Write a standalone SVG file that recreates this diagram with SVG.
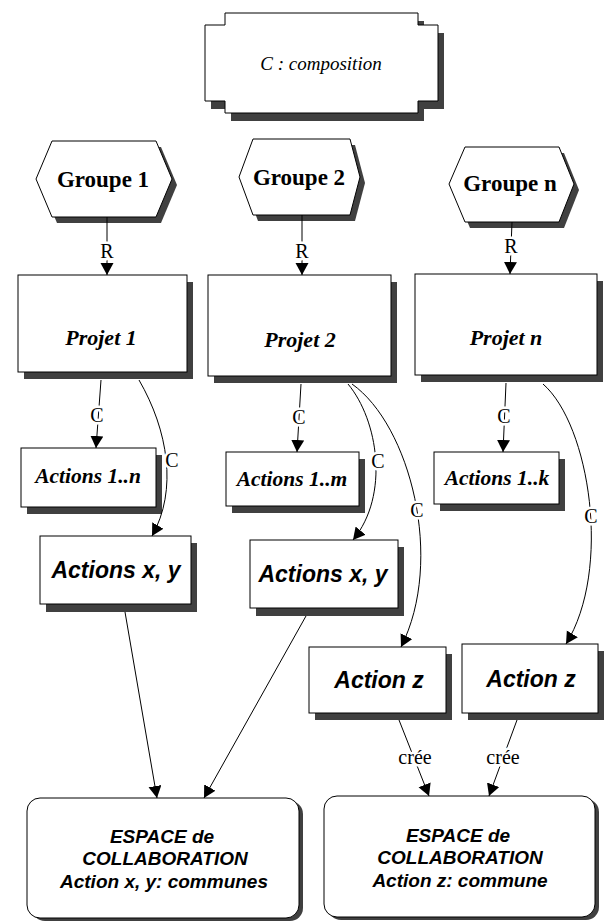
<svg xmlns="http://www.w3.org/2000/svg" width="604" height="921" viewBox="0 0 604 921">
<defs>
<style>
.bx{fill:#fff;stroke:#000;stroke-width:1}
.sh{fill:#404040;stroke:none}
.ln{fill:none;stroke:#000;stroke-width:1}
.lbl{font-family:"Liberation Serif","Times New Roman",serif;font-size:20px;text-anchor:middle;fill:#000;stroke:#fff;stroke-width:5px;paint-order:stroke;stroke-linejoin:round}
.grp{font-family:"Liberation Serif","Times New Roman",serif;font-size:23px;font-weight:bold;text-anchor:middle}
.prj{font-family:"Liberation Serif","Times New Roman",serif;font-size:22px;font-weight:bold;font-style:italic;text-anchor:middle}
.act{font-family:"Liberation Serif","Times New Roman",serif;font-size:21.5px;font-weight:bold;font-style:italic;text-anchor:middle}
.sans{font-family:"Liberation Sans",Arial,sans-serif;font-size:23px;font-weight:bold;font-style:italic;text-anchor:middle}
.esp{font-family:"Liberation Sans",Arial,sans-serif;font-size:19px;font-weight:bold;font-style:italic;text-anchor:middle}
.cmp{font-family:"Liberation Serif","Times New Roman",serif;font-size:19px;font-style:italic;text-anchor:middle}
</style>
<marker id="ah" markerUnits="userSpaceOnUse" markerWidth="14" markerHeight="14" refX="12" refY="6.5" orient="auto">
<path d="M0,0 L12,6.5 L0,13 Z" fill="#000"/>
</marker>
<path id="compo" d="M225,13 H418 V25 H438 V101 H418 V113 H225 V101 H205 V25 H225 Z"/>
</defs>

<g id="composition">
<use href="#compo" class="sh" transform="translate(6,8)"/>
<use href="#compo" class="bx"/>
<text class="cmp" x="321" y="70">C : composition</text>
</g>

<g id="groupe1">
<polygon class="sh" points="41,185 57,147 161,147 177,185 161,223 57,223"/>
<polygon class="bx" points="36,179 52,141 156,141 172,179 156,217 52,217"/>
<text class="grp" x="103" y="187">Groupe 1</text>
</g>
<g id="groupe2">
<polygon class="sh" points="244,183 258,145 355,145 365,183 355,221 258,221"/>
<polygon class="bx" points="239,177 253,139 350,139 360,177 350,215 253,215"/>
<text class="grp" x="299" y="185">Groupe 2</text>
</g>
<g id="groupen">
<polygon class="sh" points="454,190 470,153 564,153 579,190 564,228 470,228"/>
<polygon class="bx" points="449,184 465,147 559,147 574,184 559,222 465,222"/>
<text class="grp" x="510" y="191">Groupe n</text>
</g>

<g id="projet1">
<rect class="sh" x="24" y="282" width="169" height="97"/>
<rect class="bx" x="18" y="275" width="169" height="97"/>
<text class="prj" x="101" y="345">Projet 1</text>
</g>
<g id="projet2">
<rect class="sh" x="214" y="282" width="183" height="101"/>
<rect class="bx" x="208" y="275" width="183" height="101"/>
<text class="prj" x="300" y="347">Projet 2</text>
</g>
<g id="projetn">
<rect class="sh" x="421" y="281" width="182" height="101"/>
<rect class="bx" x="415" y="274" width="182" height="101"/>
<text class="prj" x="506" y="345">Projet n</text>
</g>

<g id="actions1n">
<rect class="sh" x="27" y="455" width="135" height="59"/>
<rect class="bx" x="21" y="448" width="135" height="59"/>
<text class="act" x="88" y="483">Actions 1..n</text>
</g>
<g id="actions1m">
<rect class="sh" x="232" y="459" width="133" height="54"/>
<rect class="bx" x="226" y="452" width="133" height="54"/>
<text class="act" x="292" y="486">Actions 1..m</text>
</g>
<g id="actions1k">
<rect class="sh" x="440" y="459" width="125" height="52"/>
<rect class="bx" x="434" y="452" width="125" height="52"/>
<text class="act" x="497" y="485">Actions 1..k</text>
</g>

<g id="actionsxy1">
<rect class="sh" x="46" y="543" width="151" height="69"/>
<rect class="bx" x="40" y="536" width="151" height="68"/>
<text class="sans" x="116" y="578">Actions x, y</text>
</g>
<g id="actionsxy2">
<rect class="sh" x="256" y="547" width="148" height="69"/>
<rect class="bx" x="250" y="540" width="148" height="68"/>
<text class="sans" x="323" y="582">Actions x, y</text>
</g>
<g id="actionz1">
<rect class="sh" x="315" y="654" width="137" height="66"/>
<rect class="bx" x="309" y="647" width="137" height="66"/>
<text class="sans" x="379" y="688">Action z</text>
</g>
<g id="actionz2">
<rect class="sh" x="468" y="651" width="136" height="69"/>
<rect class="bx" x="462" y="644" width="136" height="69"/>
<text class="sans" x="531" y="687">Action z</text>
</g>

<g id="espace1">
<rect class="sh" x="32" y="801" width="271" height="120" rx="13"/>
<rect class="bx" x="27" y="798" width="272" height="120" rx="13"/>
<text class="esp" x="162" y="843">ESPACE de</text>
<text class="esp" x="165" y="865">COLLABORATION</text>
<text class="esp" x="164" y="888">Action x, y: communes</text>
</g>
<g id="espace2">
<rect class="sh" x="328" y="799" width="271" height="121" rx="13"/>
<rect class="bx" x="324" y="796" width="271" height="121" rx="13"/>
<text class="esp" x="458" y="842">ESPACE de</text>
<text class="esp" x="460" y="864">COLLABORATION</text>
<text class="esp" x="460" y="887">Action z: commune</text>
</g>

<g id="connectors">
<line class="ln" x1="107" y1="217" x2="107" y2="275" marker-end="url(#ah)"/>
<line class="ln" x1="302" y1="215" x2="302" y2="275" marker-end="url(#ah)"/>
<line class="ln" x1="512" y1="222" x2="510" y2="274" marker-end="url(#ah)"/>
<line class="ln" x1="101" y1="380" x2="96" y2="448" marker-end="url(#ah)"/>
<line class="ln" x1="301" y1="384" x2="297" y2="452" marker-end="url(#ah)"/>
<line class="ln" x1="506" y1="383" x2="503" y2="452" marker-end="url(#ah)"/>
<path class="ln" d="M139,380 C168,430 178,490 152,536" marker-end="url(#ah)"/>
<path class="ln" d="M348,384 C378,420 390,495 353,540" marker-end="url(#ah)"/>
<path class="ln" d="M352,384 C410,425 445,560 401,647" marker-end="url(#ah)"/>
<path class="ln" d="M543,384 C590,425 612,570 566,644" marker-end="url(#ah)"/>
<line class="ln" x1="125" y1="612" x2="157" y2="798" marker-end="url(#ah)"/>
<line class="ln" x1="306" y1="616" x2="204" y2="798" marker-end="url(#ah)"/>
<line class="ln" x1="399" y1="720" x2="429" y2="796" marker-end="url(#ah)"/>
<line class="ln" x1="517" y1="720" x2="489" y2="796" marker-end="url(#ah)"/>
<text class="lbl" x="107" y="258">R</text>
<text class="lbl" x="302" y="258">R</text>
<text class="lbl" x="511" y="253">R</text>
<text class="lbl" x="97" y="422">C</text>
<text class="lbl" x="299" y="424">C</text>
<text class="lbl" x="504" y="423">C</text>
<text class="lbl" x="172" y="467">C</text>
<text class="lbl" x="378" y="468">C</text>
<text class="lbl" x="417" y="517">C</text>
<text class="lbl" x="591" y="523">C</text>
<text class="lbl" x="415" y="764">crée</text>
<text class="lbl" x="503" y="764">crée</text>
</g>
</svg>
